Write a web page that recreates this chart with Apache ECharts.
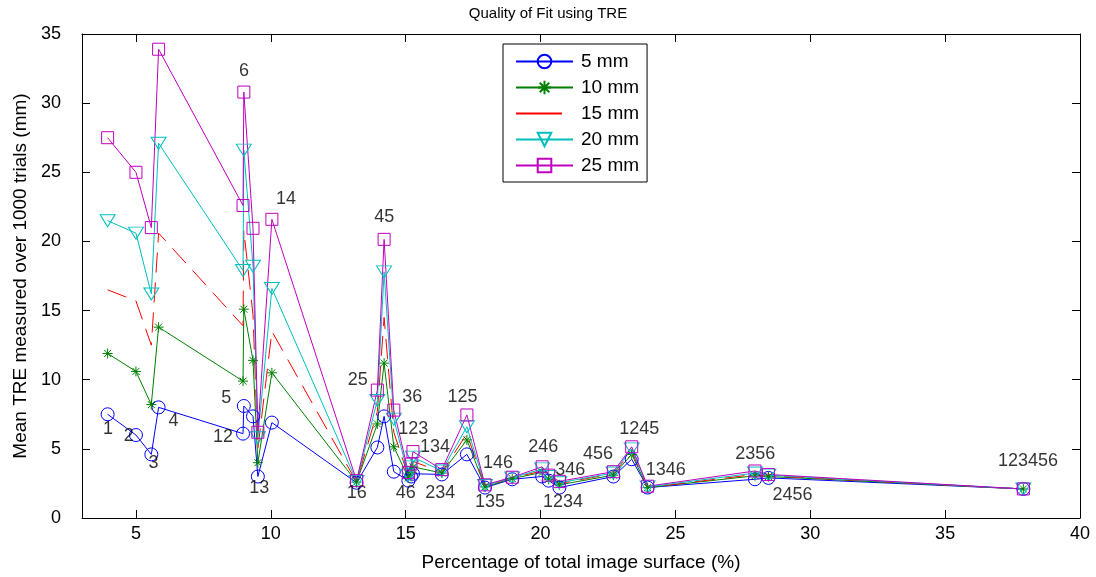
<!DOCTYPE html>
<html><head><meta charset="utf-8">
<script src="https://cdn.jsdelivr.net/npm/echarts@6/dist/echarts.min.js"></script>
<style>html,body{margin:0;padding:0;background:#fff}#c{width:1096px;height:577px}</style>
</head><body><div id="c"></div>
<script>
// ---- data ----
const combos = ['1','2','3','4','12','5','6','13','14','16','25','45','36','46','134','123','234','125','135','146','246','1234','346','456','1245','1346','2356','2456','123456'];
const surfacePct = [3.95,5.0,5.57,5.84,8.97,9.0,9.34,9.52,10.04,13.18,13.95,14.2,14.56,15.1,15.2,15.27,16.34,17.27,17.94,18.95,20.06,20.3,20.7,22.7,23.38,23.97,27.95,28.45,37.9];
const tre5mm  = [7.5,6.0,4.6,8.0,6.1,8.1,7.35,3.0,6.9,2.55,5.1,7.35,3.35,2.7,3.0,3.2,3.15,4.6,2.2,2.8,3.0,2.7,2.2,3.0,4.25,2.2,2.8,2.9,2.1];
const tre10mm = [11.9,10.6,8.2,13.8,9.9,15.1,11.4,4.0,10.5,2.6,6.8,11.2,5.15,2.9,3.3,3.7,3.25,5.65,2.25,2.85,3.3,2.8,2.4,3.1,4.6,2.2,3.05,3.0,2.1];
const tre15mm = [16.5,15.7,12.5,20.6,13.9,20.8,14.7,5.0,13.5,2.6,7.7,14.5,6.2,3.0,3.5,4.1,3.3,6.1,2.3,2.9,3.4,2.9,2.5,3.2,4.8,2.2,3.15,3.05,2.1];
const tre20mm = [21.5,20.6,16.2,27.1,17.9,26.6,18.2,5.8,16.6,2.65,8.5,17.8,7.15,3.1,3.7,4.4,3.4,6.6,2.35,2.9,3.55,3.0,2.55,3.25,5.0,2.25,3.25,3.1,2.1];
const tre25mm = [27.5,25.0,21.0,33.9,22.6,30.8,20.95,6.2,21.6,2.7,9.25,20.15,7.8,3.3,3.9,4.8,3.5,7.45,2.4,2.95,3.7,3.1,2.65,3.35,5.15,2.3,3.4,3.15,2.1];
const seriesNames = ['5 mm','10 mm','15 mm','20 mm','25 mm'];
const xTicks = [5,10,15,20,25,30,35,40];
const yTicks = [0,5,10,15,20,25,30,35];
// annotation text anchors (data coordinates)
const annotText = ['1','2','3','4','5','12','13','6','14','16','25','45','36','123','134','46','234','125','146','135','246','346','1234','456','1245','1346','2356','2456','123456'];
const annotX = [3.96,4.73,5.65,6.39,8.35,8.23,9.57,9.01,10.56,13.19,13.22,14.21,15.24,15.28,16.09,15.0,16.28,17.11,18.42,18.13,20.1,21.1,20.83,22.13,23.66,24.64,27.96,29.34,38.07];
const annotY = [6.4,5.9,4.0,7.0,8.7,5.85,2.2,32.35,23.05,1.8,9.95,21.75,8.75,6.45,5.15,1.8,1.8,8.75,4.0,1.15,5.15,3.5,1.15,4.65,6.4,3.45,4.65,1.65,4.1];

const FONT = 'Liberation Sans, Arial, Helvetica, sans-serif';
const pts = arr => surfacePct.map((x,i)=>[x,arr[i]]);
const asterisk = 'path://M0,5L10,5M5,0L5,10M1.5,1.5L8.5,8.5M1.5,8.5L8.5,1.5';
const clear = 'rgba(0,0,0,0)';

function lineSeries(name, arr, color, symbol, size, extra) {
  return Object.assign({
    name, type:'line', data: pts(arr), xAxisIndex:0, yAxisIndex:0,
    symbol, symbolSize:size, showSymbol:true, showAllSymbol:true,
    lineStyle:{color, width:1},
    itemStyle:{color:clear, borderColor:color, borderWidth:1},
    emphasis:{disabled:true}, z:2
  }, extra||{});
}

const chart = echarts.init(document.getElementById('c'), null, {renderer:'canvas'});
const axisCommon = {
  axisLine:{show:true, onZero:false, lineStyle:{color:'#000', width:1}},
  splitLine:{show:false}
};
chart.setOption({
  animation:false,
  backgroundColor:'#fff',
  textStyle:{fontFamily:FONT},
  title:{text:'Quality of Fit using TRE', left:'center', top:1,
    textStyle:{fontFamily:FONT, fontSize:15, fontWeight:'normal', color:'#000'}},
  grid:{left:82, right:16, top:34, bottom:55, containLabel:false},
  legend:{
    data:[
      {name:seriesNames[0]},
      {name:seriesNames[1]},
      {name:seriesNames[2], itemStyle:{opacity:0}, lineStyle:{type:[46,20]}},
      {name:seriesNames[3]},
      {name:seriesNames[4]}
    ],
    orient:'vertical', left:503, top:44,
    backgroundColor:'#fff', borderColor:'#000', borderWidth:1,
    padding:[8,8,7,12], itemGap:7, itemWidth:57, itemHeight:17,
    textStyle:{fontFamily:FONT, fontSize:19, color:'#000', padding:[0,0,0,3]},
    selectedMode:false
  },
  xAxis:[
    Object.assign({type:'value', min:3, max:40, position:'bottom',
      axisTick:{show:true, inside:true, length:8, customValues:xTicks, lineStyle:{color:'#000'}},
      axisLabel:{customValues:xTicks, fontSize:18, color:'#000', fontFamily:FONT, margin:7},
      name:'Percentage of total image surface (%)', nameLocation:'middle', nameGap:35,
      nameTextStyle:{fontFamily:FONT, fontSize:19, color:'#000'}}, axisCommon),
    Object.assign({type:'value', min:3, max:40, position:'top',
      axisTick:{show:true, inside:true, length:8, customValues:xTicks, lineStyle:{color:'#000'}},
      axisLabel:{show:false, customValues:xTicks}}, axisCommon)
  ],
  yAxis:[
    Object.assign({type:'value', min:0, max:35, interval:5, position:'left',
      axisTick:{show:true, inside:true, length:8, lineStyle:{color:'#000'}},
      axisLabel:{fontSize:18, color:'#000', fontFamily:FONT, margin:21},
      name:'Mean TRE measured over 1000 trials (mm)', nameLocation:'middle', nameGap:50,
      nameTextStyle:{fontFamily:FONT, fontSize:19, color:'#000'}}, axisCommon),
    Object.assign({type:'value', min:0, max:35, interval:5, position:'right',
      axisTick:{show:true, inside:true, length:8, lineStyle:{color:'#000'}},
      axisLabel:{show:false}}, axisCommon)
  ],
  series:[
    lineSeries(seriesNames[0], tre5mm, '#0000ff', 'circle', 13),
    lineSeries(seriesNames[1], tre10mm, '#008000', asterisk, 10),
    lineSeries(seriesNames[2], tre15mm, '#ff0000', 'none', 0, {lineStyle:{color:'#ff0000', width:1, type:[20,10]}, itemStyle:{color:'#ff0000'}}),
    lineSeries(seriesNames[3], tre20mm, '#00bfbf', 'triangle', [15,12], {symbolRotate:180}),
    lineSeries(seriesNames[4], tre25mm, '#bf00bf', 'rect', 12),
    {
      type:'scatter', silent:true, symbolSize:0, z:5,
      data: annotText.map((t,i)=>({name:t, value:[annotX[i], annotY[i]]})),
      label:{show:true, position:'inside', formatter:'{b}', fontFamily:FONT, fontSize:18, color:'#000'}
    }
  ]
});
</script></body></html>
